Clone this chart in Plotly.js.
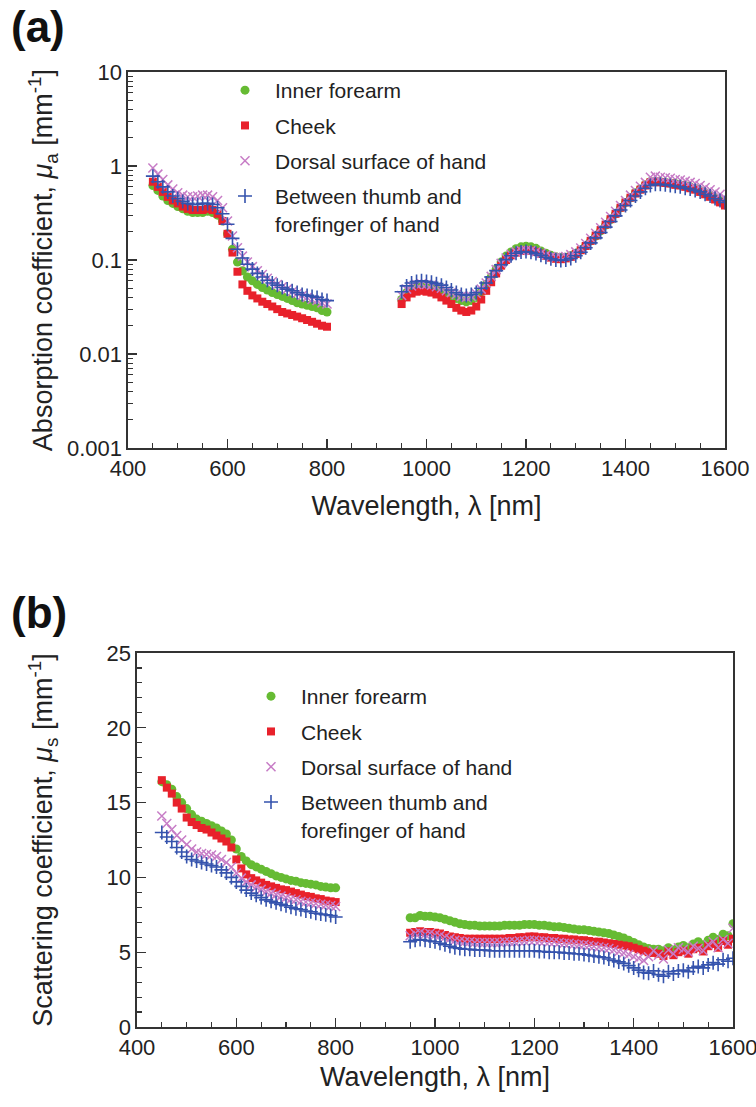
<!DOCTYPE html>
<html>
<head>
<meta charset="utf-8">
<script src="https://cdn.plot.ly/plotly-3.0.1.min.js"></script>
<style>html,body{margin:0;padding:0;background:#fff;}#chart{width:756px;height:1107px;}</style>
</head>
<body>
<div id="chart"></div>
<script>
// Wavelengths [nm]
const wlVis = [450,460,470,480,490,500,510,520,530,540,550,560,570,580,590,600,610,620,630,640,650,660,670,680,690,700,710,720,730,740,750,760,770,780,790,800];
const wlNir = [950,960,970,980,990,1000,1010,1020,1030,1040,1050,1060,1070,1080,1090,1100,1110,1120,1130,1140,1150,1160,1170,1180,1190,1200,1210,1220,1230,1240,1250,1260,1270,1280,1290,1300,1310,1320,1330,1340,1350,1360,1370,1380,1390,1400,1410,1420,1430,1440,1450,1460,1470,1480,1490,1500,1510,1520,1530,1540,1550,1560,1570,1580,1590,1600];

const seriesNames = ["Inner forearm", "Cheek", "Dorsal surface of hand", "Between thumb and<br>forefinger of hand"];

// (a) Absorption coefficient mu_a [mm^-1]
const muaForearmVis = [0.62,0.55,0.48,0.43,0.40,0.37,0.35,0.33,0.32,0.32,0.32,0.33,0.32,0.30,0.26,0.19,0.13,0.095,0.077,0.066,0.060,0.055,0.051,0.048,0.045,0.043,0.041,0.039,0.037,0.035,0.034,0.033,0.032,0.031,0.029,0.028];
const muaCheekVis = [0.68,0.60,0.53,0.47,0.43,0.40,0.37,0.35,0.34,0.34,0.34,0.35,0.34,0.31,0.26,0.19,0.12,0.075,0.055,0.047,0.042,0.039,0.036,0.034,0.032,0.030,0.028,0.027,0.026,0.025,0.024,0.023,0.022,0.021,0.020,0.0195];
const muaDorsalVis = [0.95,0.82,0.72,0.63,0.57,0.52,0.49,0.47,0.47,0.48,0.49,0.49,0.47,0.43,0.36,0.26,0.18,0.135,0.11,0.095,0.085,0.077,0.070,0.064,0.059,0.055,0.052,0.049,0.046,0.044,0.042,0.040,0.038,0.037,0.035,0.034];
const muaThumbVis = [0.78,0.68,0.60,0.53,0.48,0.45,0.42,0.40,0.39,0.39,0.40,0.40,0.39,0.36,0.31,0.24,0.17,0.13,0.105,0.090,0.080,0.072,0.066,0.061,0.057,0.054,0.051,0.049,0.047,0.045,0.043,0.042,0.041,0.040,0.038,0.037];

const muaForearmNir = [0.038,0.045,0.049,0.051,0.052,0.051,0.050,0.048,0.046,0.043,0.041,0.039,0.037,0.036,0.037,0.040,0.046,0.055,0.066,0.080,0.095,0.110,0.122,0.132,0.138,0.140,0.138,0.133,0.125,0.118,0.112,0.108,0.106,0.107,0.111,0.118,0.128,0.142,0.160,0.180,0.205,0.235,0.270,0.31,0.36,0.41,0.46,0.52,0.57,0.63,0.68,0.69,0.68,0.67,0.66,0.65,0.63,0.62,0.60,0.58,0.55,0.52,0.49,0.46,0.43,0.40];
const muaCheekNir = [0.034,0.040,0.044,0.046,0.047,0.046,0.045,0.043,0.040,0.037,0.034,0.031,0.029,0.028,0.029,0.032,0.038,0.047,0.058,0.072,0.087,0.100,0.112,0.120,0.125,0.127,0.126,0.122,0.117,0.111,0.106,0.103,0.102,0.104,0.108,0.116,0.127,0.141,0.160,0.182,0.208,0.238,0.272,0.31,0.36,0.41,0.46,0.51,0.56,0.62,0.67,0.68,0.67,0.66,0.65,0.63,0.62,0.60,0.58,0.56,0.53,0.50,0.47,0.44,0.41,0.38];
const muaDorsalNir = [0.042,0.049,0.053,0.055,0.056,0.055,0.054,0.052,0.050,0.047,0.045,0.043,0.041,0.040,0.041,0.044,0.049,0.057,0.067,0.079,0.092,0.105,0.115,0.122,0.126,0.127,0.126,0.122,0.118,0.113,0.109,0.107,0.107,0.109,0.114,0.122,0.134,0.150,0.170,0.193,0.220,0.252,0.29,0.33,0.38,0.43,0.49,0.55,0.61,0.67,0.76,0.78,0.76,0.75,0.74,0.72,0.71,0.69,0.67,0.65,0.62,0.59,0.56,0.53,0.50,0.46];
const muaThumbNir = [0.046,0.053,0.057,0.059,0.060,0.059,0.058,0.056,0.054,0.051,0.048,0.045,0.043,0.042,0.043,0.045,0.050,0.057,0.066,0.077,0.089,0.101,0.111,0.118,0.122,0.123,0.121,0.117,0.112,0.107,0.103,0.100,0.099,0.100,0.104,0.111,0.121,0.135,0.152,0.172,0.196,0.224,0.257,0.295,0.34,0.38,0.43,0.48,0.53,0.58,0.62,0.64,0.64,0.63,0.62,0.61,0.60,0.58,0.57,0.55,0.53,0.50,0.48,0.45,0.43,0.41];

// (b) Scattering coefficient mu_s [mm^-1]
const musForearmVis = [16.4,16.2,15.9,15.4,15.0,14.6,14.2,13.9,13.75,13.6,13.45,13.3,13.1,12.9,12.5,11.9,11.4,11.1,10.85,10.7,10.55,10.4,10.25,10.1,10.0,9.9,9.8,9.75,9.65,9.6,9.55,9.5,9.4,9.35,9.3,9.3];
const musCheekVis = [16.5,16.0,15.6,15.0,14.6,14.0,13.7,13.5,13.3,13.2,13.0,12.8,12.6,12.4,12.0,11.2,10.6,10.2,9.95,9.8,9.65,9.5,9.4,9.3,9.2,9.15,9.05,8.95,8.85,8.75,8.7,8.6,8.55,8.45,8.4,8.35];
const musDorsalVis = [14.1,13.6,13.2,12.8,12.5,12.2,11.9,11.7,11.6,11.55,11.5,11.4,11.2,11.0,10.7,10.3,9.95,9.7,9.5,9.35,9.2,9.05,8.95,8.85,8.75,8.65,8.55,8.5,8.4,8.35,8.3,8.25,8.2,8.15,8.1,8.05];
const musThumbVis = [13.0,12.7,12.4,12.0,11.7,11.4,11.2,11.1,11.0,10.9,10.8,10.7,10.5,10.3,10.0,9.7,9.4,9.15,8.95,8.8,8.65,8.5,8.4,8.3,8.2,8.1,8.0,7.9,7.85,7.75,7.7,7.6,7.55,7.5,7.45,7.35];

const musForearmNir = [7.3,7.3,7.45,7.4,7.4,7.35,7.3,7.2,7.1,7.0,6.9,6.85,6.8,6.8,6.75,6.75,6.75,6.75,6.75,6.8,6.8,6.8,6.8,6.85,6.85,6.85,6.8,6.8,6.75,6.7,6.7,6.65,6.6,6.55,6.5,6.5,6.45,6.4,6.35,6.3,6.25,6.15,6.05,5.95,5.8,5.65,5.5,5.35,5.25,5.2,5.2,5.1,5.3,5.15,5.35,5.45,5.3,5.55,5.7,5.5,5.8,6.0,5.85,6.2,6.1,6.9];
const musCheekNir = [6.3,6.35,6.4,6.35,6.35,6.3,6.25,6.15,6.05,6.0,5.95,5.9,5.9,5.9,5.9,5.9,5.9,5.9,5.9,5.9,5.95,5.95,6.0,6.0,6.05,6.05,6.0,6.0,5.95,5.95,5.9,5.9,5.85,5.85,5.8,5.8,5.75,5.7,5.7,5.65,5.6,5.55,5.5,5.45,5.4,5.3,5.2,5.1,5.0,4.95,4.9,4.75,5.05,4.8,5.0,5.1,4.9,5.2,5.3,5.05,5.4,5.55,5.3,5.75,5.5,5.9];
const musDorsalNir = [6.1,6.25,6.3,6.2,6.25,6.15,6.1,6.0,5.9,5.8,5.75,5.7,5.7,5.65,5.65,5.65,5.65,5.65,5.65,5.7,5.7,5.7,5.75,5.75,5.8,5.8,5.75,5.75,5.7,5.7,5.65,5.6,5.6,5.55,5.5,5.5,5.45,5.4,5.35,5.3,5.25,5.15,5.05,4.95,4.85,4.7,4.6,4.45,4.7,5.1,4.8,4.55,5.15,4.9,5.3,5.2,5.0,5.4,5.25,5.1,5.5,5.7,5.3,5.85,5.6,6.6];
const musThumbNir = [5.7,5.8,5.85,5.8,5.75,5.7,5.6,5.5,5.4,5.3,5.25,5.2,5.2,5.15,5.15,5.15,5.1,5.1,5.1,5.1,5.1,5.1,5.1,5.1,5.1,5.1,5.05,5.05,5.0,5.0,5.0,4.95,4.95,4.9,4.9,4.85,4.8,4.75,4.7,4.65,4.55,4.45,4.35,4.25,4.1,3.95,3.8,3.65,3.6,3.75,3.5,3.4,3.7,3.55,3.75,3.8,3.7,3.95,4.05,3.95,4.15,4.3,4.2,4.5,4.4,4.6];

// Tick labels
const xTickVals = [400,600,800,1000,1200,1400,1600];
const yLogTickVals = [0.001,0.01,0.1,1,10];
const yLogTickText = ["0.001","0.01","0.1","1","10"];
const yLogMinorVals = [0.002,0.003,0.004,0.005,0.006,0.007,0.008,0.009,0.02,0.03,0.04,0.05,0.06,0.07,0.08,0.09,0.2,0.3,0.4,0.5,0.6,0.7,0.8,0.9,2,3,4,5,6,7,8,9];
const yLinTickVals = [0,5,10,15,20,25];

const wlAll = wlVis.concat(wlNir);
const styles = [
  {symbol:'circle', color:'#66bb33', size:9, lw:0},
  {symbol:'square', color:'#e8212b', size:8, lw:0},
  {symbol:'x-thin-open', color:'#c77cc6', size:9, lw:1.5},
  {symbol:'cross-thin-open', color:'#3553ad', size:10, lw:1.6}
];
const muaSeries = [muaForearmVis.concat(muaForearmNir), muaCheekVis.concat(muaCheekNir), muaDorsalVis.concat(muaDorsalNir), muaThumbVis.concat(muaThumbNir)];
const musSeries = [musForearmVis.concat(musForearmNir), musCheekVis.concat(musCheekNir), musDorsalVis.concat(musDorsalNir), musThumbVis.concat(musThumbNir)];

const traces = [];
[0,1,2,3].forEach(i => {
  const s = styles[i];
  traces.push({
    x: wlAll, y: muaSeries[i], xaxis:'x', yaxis:'y', type:'scatter', mode:'markers',
    name: seriesNames[i], legend:'legend', legendgroup:'a'+i,
    marker:{symbol:s.symbol, color:s.color, size:s.size, line:{width:s.lw, color:s.color}}
  });
});
[0,1,2,3].forEach(i => {
  const s = styles[i];
  traces.push({
    x: wlAll, y: musSeries[i], xaxis:'x2', yaxis:'y2', type:'scatter', mode:'markers',
    name: seriesNames[i], legend:'legend2', legendgroup:'b'+i,
    marker:{symbol:s.symbol, color:s.color, size:s.size, line:{width:s.lw, color:s.color}}
  });
});

const W = 756, H = 1107;
const axCol = '#333';
const fontFam = 'Liberation Sans, Arial, sans-serif';
function xAxis(domain, anchor, standoff) {
  return {
    domain: domain, anchor: anchor, range:[400,1600], tickmode:'array', tickvals:xTickVals,
    ticks:'inside', ticklen:9, tickwidth:1.3, tickcolor:axCol, ticklabeloverflow:'allow',
    minor:{dtick:50, tick0:400, ticks:'inside', ticklen:5, tickwidth:1.1, tickcolor:axCol},
    showline:true, linecolor:axCol, linewidth:1.6, mirror:true, showgrid:false, zeroline:false,
    tickfont:{size:22, color:'#222'},
    title:{text:'Wavelength, λ [nm]', font:{size:27, color:'#222'}, standoff:standoff}
  };
}
const layout = {
  width: W, height: H,
  margin:{l:0, r:0, t:0, b:0},
  paper_bgcolor:'#fff', plot_bgcolor:'#fff',
  font:{family:fontFam, color:'#222'},
  showlegend:true,
  xaxis: xAxis([128/W, 725/W], 'y', 16),
  yaxis: {
    domain:[1-448/H, 1-72/H], anchor:'x', type:'log', range:[-3,1],
    tickmode:'array', tickvals:yLogTickVals, ticktext:yLogTickText,
    ticks:'inside', ticklen:9, tickwidth:1.3, tickcolor:axCol,
    minor:{tickmode:'array', tickvals:yLogMinorVals, ticks:'inside', ticklen:5, tickwidth:1.1, tickcolor:axCol},
    showline:true, linecolor:axCol, linewidth:1.6, mirror:true, showgrid:false, zeroline:false,
    tickfont:{size:22, color:'#222'},
    title:{text:'Absorption coefficient, <i>μ</i><sub>a</sub> [mm<sup>-1</sup>]', font:{size:27, color:'#222'}, standoff:6}
  },
  xaxis2: xAxis([137/W, 733/W], 'y2', 8),
  yaxis2: {
    domain:[1-1027/H, 1-653/H], anchor:'x2', range:[0,25],
    tickmode:'array', tickvals:yLinTickVals,
    ticks:'inside', ticklen:9, tickwidth:1.3, tickcolor:axCol,
    minor:{dtick:1, tick0:0, ticks:'inside', ticklen:5, tickwidth:1.1, tickcolor:axCol},
    showline:true, linecolor:axCol, linewidth:1.6, mirror:true, showgrid:false, zeroline:false,
    tickfont:{size:22, color:'#222'},
    title:{text:'Scattering coefficient, <i>μ</i><sub>s</sub> [mm<sup>-1</sup>]', font:{size:27, color:'#222'}, standoff:46}
  },
  legend: {
    x:215/W, y:1-70/H, xanchor:'left', yanchor:'top', bgcolor:'rgba(0,0,0,0)',
    font:{size:21, color:'#222', family:fontFam}, itemwidth:50, valign:'top',
    tracegroupgap:5, traceorder:'grouped'
  },
  legend2: {
    x:241/W, y:1-676/H, xanchor:'left', yanchor:'top', bgcolor:'rgba(0,0,0,0)',
    font:{size:21, color:'#222', family:fontFam}, itemwidth:50, valign:'top',
    tracegroupgap:5, traceorder:'grouped'
  },
  annotations: [
    {text:'<b>(a)</b>', xref:'paper', yref:'paper', x:9/W, y:1-0/H, xanchor:'left', yanchor:'top', showarrow:false, font:{size:44, color:'#111', family:fontFam}},
    {text:'<b>(b)</b>', xref:'paper', yref:'paper', x:9/W, y:1-586/H, xanchor:'left', yanchor:'top', showarrow:false, font:{size:44, color:'#111', family:fontFam}}
  ]
};
Plotly.newPlot('chart', traces, layout, {displayModeBar:false, staticPlot:true});
</script>
</body>
</html>
